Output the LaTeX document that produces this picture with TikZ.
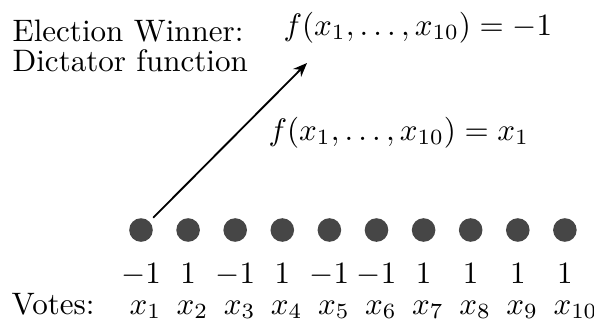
\documentclass[tikz,border=0pt]{standalone}
\usepackage{amsmath}
\usetikzlibrary{arrows.meta}
\definecolor{dotgray}{HTML}{464646}

\begin{document}
\begin{tikzpicture}[x=0.322pt,y=-0.322pt,>={Stealth[length=4.5pt,width=3.6pt]},line cap=round,
  vote/.style={circle,fill=dotgray,inner sep=0pt,minimum size=7.6pt},
  txt/.style={inner sep=0pt,anchor=base west}]
\useasboundingbox (0,0) rectangle (594,320);
\node[txt] (elect) at (12,41) {Election Winner:};
\node[txt] (dict) at (12,71) {Dictator function};
\node[txt] (win) at (283,35) {$f(x_1,\ldots,x_{10})=-1$};
\node[txt] (rule) at (268,140) {$f(x_1,\ldots,x_{10})=x_1$};
\node[txt] (votes) at (11,314) {Votes:};
\foreach \v [count=\i] in {-1,1,-1,1,-1,-1,1,1,1,1} {
  \node[vote] (d\i) at ({141+47.1*(\i-1)},230) {};
  \node[inner sep=0pt,anchor=base] (v\i) at ({141+47.1*(\i-1)},283) {$\v$};
  \node[txt] (x\i) at ({129+47.1*(\i-1)},314) {$x_{\i}$};
}
\coordinate (tip) at (307,63);
\draw[->,semithick,shorten <=1.7pt] (d1) -- (tip);
\end{tikzpicture}
\end{document}
